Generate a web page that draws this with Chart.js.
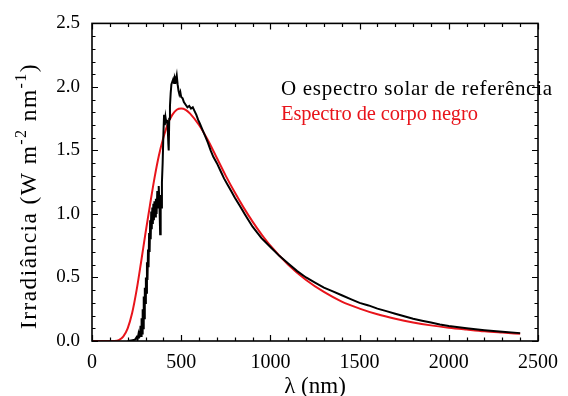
<!DOCTYPE html>
<html>
<head>
<meta charset="utf-8">
<script src="https://cdn.jsdelivr.net/npm/chart.js@4.4.1/dist/chart.umd.min.js"></script>
<style>
  html, body { margin: 0; padding: 0; background: #fff; }
  #wrap { width: 568px; height: 396px; }
</style>
</head>
<body>
<div id="wrap"><canvas id="chart" width="568" height="396"></canvas></div>
<script>
// espectro solar de referência
const solarWl = [200, 220, 240, 250, 255, 260, 263, 266, 269, 272, 275, 278, 281, 284, 287, 290, 293, 296, 299, 302,
  305, 308, 311, 314, 317, 320, 323, 326, 329, 332, 335, 338, 341, 344, 347, 350, 354, 358, 362, 366,
  370, 374, 378, 382, 385, 388, 392, 396, 400, 404, 408, 412, 416, 420, 424, 428, 430, 433, 437, 441,
  445, 450, 455, 460, 465, 470, 475, 480, 485, 490, 495, 500, 508, 515, 525, 535, 545, 555, 565, 575,
  585, 595, 605, 620, 635, 650, 665, 680, 700, 720, 740, 760, 780, 800, 830, 860, 900, 950, 1000, 1050,
  1100, 1150, 1200, 1250, 1300, 1350, 1400, 1450, 1500, 1550, 1600, 1650, 1700, 1750, 1800, 1850, 1900, 1950, 2000, 2100,
  2200, 2300, 2400];
const solarIrr = [0.0, 0.005, 0.01, 0.03, 0.01, 0.05, 0.02, 0.08, 0.03, 0.12, 0.04, 0.18, 0.06, 0.25, 0.10, 0.35, 0.18, 0.42, 0.30, 0.50,
  0.38, 0.62, 0.48, 0.72, 0.58, 0.85, 0.70, 0.95, 0.80, 1.02, 0.88, 1.05, 0.92, 1.08, 0.95, 1.10, 0.98, 1.12, 1.00, 1.18,
  1.05, 1.22, 1.08, 0.84, 1.15, 1.05, 1.25, 1.40, 1.62, 1.78, 1.70, 1.76, 1.72, 1.74, 1.70, 1.55, 1.50, 1.75, 1.85, 1.95,
  2.02, 2.04, 2.06, 2.03, 2.07, 2.05, 2.09, 2.02, 1.97, 1.94, 1.96, 1.92, 1.91, 1.88, 1.86, 1.84, 1.85, 1.83, 1.84, 1.81,
  1.78, 1.74, 1.71, 1.66, 1.61, 1.56, 1.50, 1.45, 1.40, 1.34, 1.28, 1.23, 1.18, 1.13, 1.06, 0.99, 0.90, 0.81, 0.74, 0.67,
  0.61, 0.55, 0.50, 0.46, 0.42, 0.39, 0.36, 0.33, 0.30, 0.28, 0.255, 0.235, 0.215, 0.195, 0.175, 0.16, 0.145, 0.13, 0.118, 0.10,
  0.085, 0.072, 0.062];

// espectro de corpo negro
const bbWl = [0, 100, 125, 150, 175, 200, 225, 250, 275, 300, 325, 350, 375, 400, 425, 450, 475, 500, 525, 550,
  600, 650, 700, 750, 800, 850, 900, 950, 1000, 1100, 1200, 1300, 1400, 1500, 1600, 1700, 1800, 1900, 2000, 2100,
  2200, 2300, 2400];
const bbIrr = [0, 0, 0.0005, 0.007, 0.035, 0.10, 0.22, 0.40, 0.62, 0.85, 1.07, 1.28, 1.46, 1.60, 1.71, 1.78, 1.82, 1.83, 1.82, 1.79,
  1.70, 1.58, 1.44, 1.30, 1.17, 1.05, 0.94, 0.84, 0.75, 0.60, 0.48, 0.386, 0.31, 0.255, 0.21, 0.175, 0.146, 0.123, 0.105, 0.09,
  0.076, 0.066, 0.057];

const xTicks = [0, 500, 1000, 1500, 2000, 2500];
const yTicks = [0.0, 0.5, 1.0, 1.5, 2.0, 2.5];

const serif = "'Liberation Serif', 'Times New Roman', serif";

// escreve o texto esticado até a largura pedida (a fonte original é mais larga)
function fillWide(ctx, text, x, y, width) {
  ctx.letterSpacing = '0px';
  const w = ctx.measureText(text).width;
  const sp = (width - w) / (text.length - 1);
  ctx.letterSpacing = sp.toFixed(2) + 'px';
  ctx.fillText(text, x, y);
  ctx.letterSpacing = '0px';
}

// moldura com marcas para dentro nos quatro lados + textos
const framePlugin = {
  id: 'frame',
  afterDatasetsDraw(chart) {
    const ctx = chart.ctx;
    const a = chart.chartArea;
    const xs = chart.scales.x, ys = chart.scales.y;
    ctx.save();
    ctx.strokeStyle = '#000';
    ctx.lineWidth = 1.6;
    ctx.strokeRect(a.left, a.top, a.right - a.left, a.bottom - a.top);
    ctx.lineWidth = 1.2;
    ctx.beginPath();
    for (let v = 0; v <= 2500; v += 100) {
      const px = Math.round(xs.getPixelForValue(v)) + 0.5;
      const len = v % 500 === 0 ? 6 : 3.5;
      ctx.moveTo(px, a.bottom); ctx.lineTo(px, a.bottom - len);
      ctx.moveTo(px, a.top); ctx.lineTo(px, a.top + len);
    }
    for (let i = 0; i <= 25; i++) {
      const py = Math.round(ys.getPixelForValue(i / 10)) + 0.5;
      const len = i % 5 === 0 ? 6 : 3.5;
      ctx.moveTo(a.left, py); ctx.lineTo(a.left + len, py);
      ctx.moveTo(a.right, py); ctx.lineTo(a.right - len, py);
    }
    ctx.stroke();
    ctx.restore();
  },
  afterDraw(chart) {
    const ctx = chart.ctx;
    ctx.save();
    // legenda
    ctx.textBaseline = 'alphabetic';
    ctx.textAlign = 'left';
    const ds = chart.data.datasets;
    ctx.font = '21px ' + serif;
    ctx.fillStyle = ds[0].borderColor;
    fillWide(ctx, ds[0].label, 281, 95, 271);
    ctx.font = '20.5px ' + serif;
    ctx.fillStyle = ds[1].borderColor;
    fillWide(ctx, ds[1].label, 281, 120, 197);
    // título do eixo y com expoentes
    const parts = [
      { t: 'Irradiância (W m', sup: false },
      { t: '-2', sup: true },
      { t: ' nm', sup: false },
      { t: '-1', sup: true },
      { t: ')', sup: false }
    ];
    const big = '23.5px ' + serif, small = '16px ' + serif;
    let total = 0, chars = 0;
    parts.forEach(p => { ctx.font = p.sup ? small : big; p.w = ctx.measureText(p.t).width; total += p.w; chars += p.t.length; });
    const sp = Math.max(0, (266 - total) / chars);
    ctx.letterSpacing = sp.toFixed(2) + 'px';
    ctx.translate(36, 196);
    ctx.rotate(-Math.PI / 2);
    ctx.fillStyle = '#000';
    let x = -(total + sp * chars) / 2;
    parts.forEach(p => {
      ctx.font = p.sup ? small : big;
      ctx.fillText(p.t, x, p.sup ? -10 : 0);
      x += p.w + sp * p.t.length;
    });
    ctx.restore();
  }
};

new Chart(document.getElementById('chart'), {
  type: 'line',
  data: {
    datasets: [
      {
        label: 'O espectro solar de referência',
        data: solarWl.map((w, i) => ({ x: w, y: solarIrr[i] })),
        borderColor: '#000000',
        borderWidth: 2,
        pointRadius: 0,
        tension: 0,
        fill: false
      },
      {
        label: 'Espectro de corpo negro',
        data: bbWl.map((w, i) => ({ x: w, y: bbIrr[i] })),
        borderColor: '#e8141b',
        borderWidth: 2,
        pointRadius: 0,
        cubicInterpolationMode: 'monotone',
        fill: false
      }
    ]
  },
  options: {
    responsive: false,
    animation: false,
    devicePixelRatio: 1,
    layout: { padding: { left: 0, right: 19, top: 20, bottom: 0 } },
    scales: {
      x: {
        type: 'linear',
        min: 0,
        max: 2500,
        afterBuildTicks: s => { s.ticks = xTicks.map(v => ({ value: v })); },
        afterFit: s => { s.height = 55; },
        grid: { display: false, drawTicks: false },
        border: { display: false },
        ticks: {
          color: '#000',
          font: { family: serif, size: 20 },
          padding: 10,
          maxRotation: 0,
          autoSkip: false,
          callback: v => String(v)
        },
        title: {
          display: true,
          text: 'λ (nm)',
          color: '#000',
          font: { family: serif, size: 23 },
          padding: { top: 0, bottom: -5 }
        }
      },
      y: {
        type: 'linear',
        min: 0,
        max: 2.5,
        afterBuildTicks: s => { s.ticks = yTicks.map(v => ({ value: v })); },
        afterFit: s => { s.width = 92; },
        grid: { display: false, drawTicks: false },
        border: { display: false },
        ticks: {
          color: '#000',
          font: { family: serif, size: 19 },
          padding: 12,
          callback: v => v.toFixed(1)
        }
      }
    },
    plugins: {
      legend: { display: false },
      tooltip: { enabled: false }
    }
  },
  plugins: [framePlugin]
});
</script>
</body>
</html>
